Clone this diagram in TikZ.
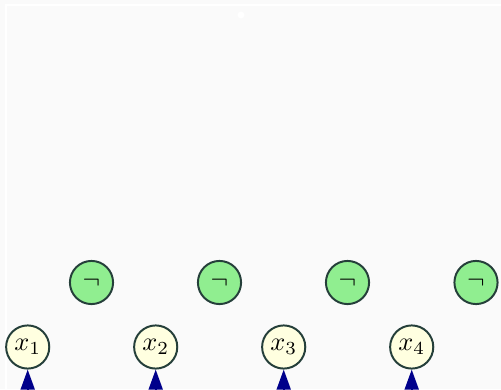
\documentclass[tikz,border=0pt]{standalone}
\usetikzlibrary{arrows.meta}
\definecolor{bgc}{HTML}{FAFAFA}
\definecolor{edgec}{HTML}{253F3A}
\definecolor{negc}{HTML}{90EE90}
\definecolor{varc}{HTML}{FFFFE0}
\definecolor{arrc}{HTML}{00008B}
\tikzset{
  negnode/.style={circle, draw=edgec, fill=negc, line width=0.75pt, minimum size=16.4pt, inner sep=0pt},
  varnode/.style={circle, draw=edgec, fill=varc, line width=0.75pt, minimum size=16.4pt, inner sep=0pt},
  inarrow/.style={arrc, line width=0.75pt, -{Triangle[length=7.6pt,width=5.3pt]}}
}
\begin{document}
\begin{tikzpicture}[x=0.38pt,y=-0.38pt]
\useasboundingbox (0,0) rectangle (501,389);
\fill[bgc] (0,0) rectangle (501,389);
\draw[white, line width=0.8pt] (6,389) -- (6,5) -- (501,5);
\node[circle, fill=white, inner sep=0pt, minimum size=2.6pt] (dot) at (241,15) {};
\node[negnode] (n1) at (91.5,282.5) {$\neg$};
\node[negnode] (n2) at (219.5,282.5) {$\neg$};
\node[negnode] (n3) at (347.5,282.5) {$\neg$};
\node[negnode] (n4) at (476,282.5) {$\neg$};
\node[varnode] (x1) at (27.7,347) {$x_1$};
\node[varnode] (x2) at (155.7,347) {$x_2$};
\node[varnode] (x3) at (283.7,347) {$x_3$};
\node[varnode] (x4) at (411.7,347) {$x_4$};
\foreach \i in {1,...,4} {
  \coordinate (s\i) at ([yshift=-12pt]x\i.south);
  \draw[inarrow] (s\i) -- (x\i.south);
}
\end{tikzpicture}
\end{document}
